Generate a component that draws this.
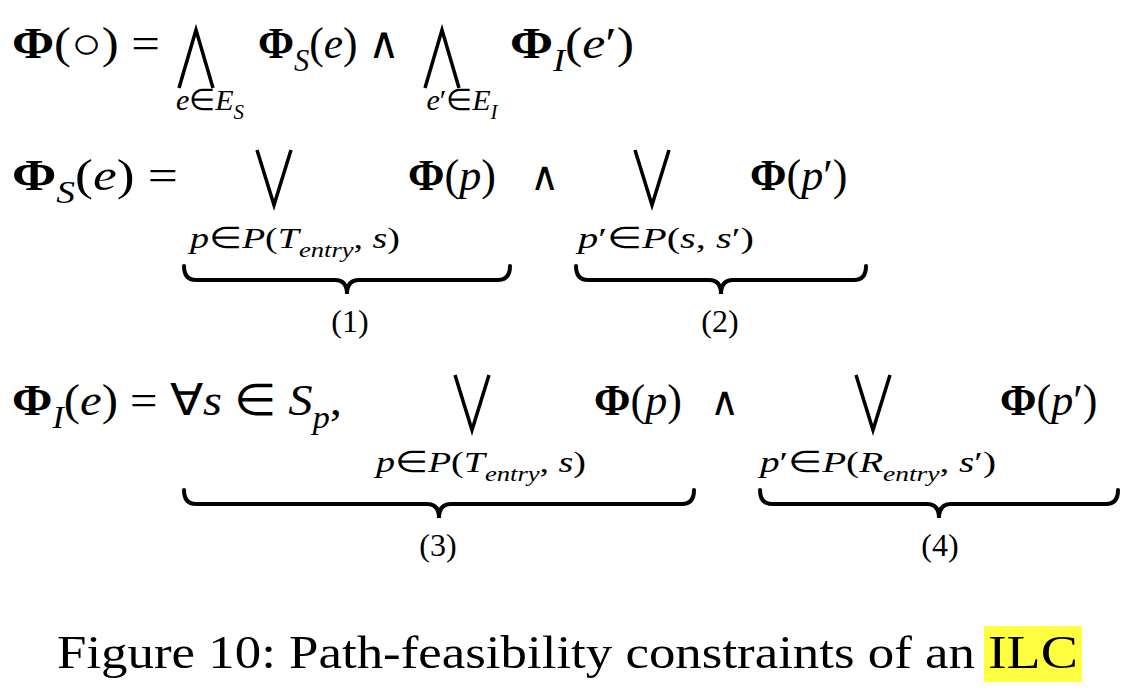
import React from "react";

type Seg = { t: string; i?: boolean; b?: boolean; sub?: boolean };

const line1: Seg[] = [{ t: "Φ", b: true }, { t: "(○) =" }];
const line1b: Seg[] = [{ t: "Φ", b: true }, { t: "S", i: true, sub: true }, { t: "(" }, { t: "e", i: true }, { t: ") ∧" }];
const line1c: Seg[] = [{ t: "Φ", b: true }, { t: "I", i: true, sub: true }, { t: "(" }, { t: "e", i: true }, { t: "′)" }];
const sub1a: Seg[] = [{ t: "e", i: true }, { t: "∈" }, { t: "E", i: true }, { t: "S", i: true, sub: true }];
const sub1b: Seg[] = [{ t: "e", i: true }, { t: "′∈" }, { t: "E", i: true }, { t: "I", i: true, sub: true }];

const line2a: Seg[] = [{ t: "Φ", b: true }, { t: "S", i: true, sub: true }, { t: "(" }, { t: "e", i: true }, { t: ") =" }];
const phiP: Seg[] = [{ t: "Φ", b: true }, { t: "(" }, { t: "p", i: true }, { t: ")" }];
const phiP2: Seg[] = [{ t: "Φ", b: true }, { t: "(" }, { t: "p", i: true }, { t: "′)" }];
const subT: Seg[] = [{ t: "p", i: true }, { t: "∈" }, { t: "P", i: true }, { t: "(" }, { t: "T", i: true }, { t: "entry", i: true, sub: true }, { t: ", " }, { t: "s", i: true }, { t: ")" }];
const subS: Seg[] = [{ t: "p", i: true }, { t: "′∈" }, { t: "P", i: true }, { t: "(" }, { t: "s", i: true }, { t: ", " }, { t: "s", i: true }, { t: "′)" }];
const subR: Seg[] = [{ t: "p", i: true }, { t: "′∈" }, { t: "P", i: true }, { t: "(" }, { t: "R", i: true }, { t: "entry", i: true, sub: true }, { t: ", " }, { t: "s", i: true }, { t: "′)" }];
const line3a: Seg[] = [{ t: "Φ", b: true }, { t: "I", i: true, sub: true }, { t: "(" }, { t: "e", i: true }, { t: ") = ∀" }, { t: "s", i: true }, { t: " ∈ " }, { t: "S", i: true }, { t: "p", i: true, sub: true }, { t: "," }];

// big operators: [x centre, top y, bottom y, isWedge]
const bigOps: [number, number, number, boolean][] = [
  [196, 30, 88, true], [442, 30, 88, true],
  [274, 150, 205, false], [652, 150, 205, false],
  [472, 375, 430, false], [873, 375, 430, false],
];
// braces: [x0, x1, y top]
const braces: [number, number, number][] = [
  [184, 510, 266], [576, 866, 266], [184, 694, 490], [760, 1118, 490],
];
const braceLabels: [string, number, number][] = [
  ["(1)", 350, 332], ["(2)", 720, 332], ["(3)", 438, 556], ["(4)", 940, 556],
];

const serif = "'Times New Roman', 'Liberation Serif', Times, serif";

function Math({ segs, x, y, size, anchor, len }: { segs: Seg[]; x: number; y: number; size: number; anchor?: string; len?: number }) {
  const out: React.ReactNode[] = [];
  let shift = 0;
  segs.forEach((s, k) => {
    const target = s.sub ? size * 0.3 : 0;
    const dy = target - shift;
    shift = target;
    out.push(
      <tspan key={k} dy={dy} fontStyle={s.i ? "italic" : "normal"} fontWeight={s.b ? "bold" : "normal"}
        fontSize={s.sub ? size * 0.7 : size}>{s.t}</tspan>
    );
  });
  return <text x={x} y={y} fontFamily={serif} fontSize={size} textAnchor={anchor ?? "start"} fill="#000"
    textLength={len} lengthAdjust={len ? "spacingAndGlyphs" : undefined}>{out}</text>;
}

function bracePath(x0: number, x1: number, y: number) {
  const m = (x0 + x1) / 2, h = 28, r = 12;
  return `M${x0},${y} Q${x0},${y + h / 2} ${x0 + r},${y + h / 2} L${m - r},${y + h / 2} Q${m},${y + h / 2} ${m},${y + h}` +
    ` Q${m},${y + h / 2} ${m + r},${y + h / 2} L${x1 - r},${y + h / 2} Q${x1},${y + h / 2} ${x1},${y}`;
}

export default function App() {
  return (
    <svg width={1134} height={692} style={{ position: "absolute", left: 0, top: 0, background: "#fff" }}>
      <Math segs={line1} x={12} y={58} size={44} len={148} />
      <Math segs={line1b} x={258} y={58} size={44} len={142} />
      <Math segs={line1c} x={510} y={58} size={44} len={124} />
      <Math segs={sub1a} x={210} y={110} size={30} anchor="middle" />
      <Math segs={sub1b} x={462} y={110} size={30} anchor="middle" />

      <Math segs={line2a} x={12} y={190} size={44} len={166} />
      <Math segs={phiP} x={408} y={190} size={44} />
      <text x={530} y={190} fontFamily={serif} fontSize={40}>∧</text>
      <Math segs={phiP2} x={750} y={190} size={44} />
      <Math segs={subT} x={190} y={248} size={30} len={210} />
      <Math segs={subS} x={578} y={248} size={30} len={176} />

      <Math segs={line3a} x={12} y={415} size={44} len={330} />
      <Math segs={phiP} x={594} y={415} size={44} />
      <text x={710} y={415} fontFamily={serif} fontSize={40}>∧</text>
      <Math segs={phiP2} x={1000} y={415} size={44} />
      <Math segs={subT} x={376} y={472} size={30} len={210} />
      <Math segs={subR} x={760} y={472} size={30} len={236} />

      {bigOps.map(([cx, t, b, wedge], k) => {
        const w = 17;
        const d = wedge
          ? `M${cx - w},${b} L${cx},${t} L${cx + w},${b}`
          : `M${cx - w},${t} L${cx},${b} L${cx + w},${t}`;
        return <path key={k} d={d} fill="none" stroke="#000" strokeWidth={3.5} strokeLinejoin="miter" />;
      })}
      {braces.map(([x0, x1, y], k) => (
        <path key={k} d={bracePath(x0, x1, y)} fill="none" stroke="#000" strokeWidth={4} strokeLinecap="round" />
      ))}
      {braceLabels.map(([t, x, y], k) => (
        <text key={k} x={x} y={y} fontFamily={serif} fontSize={32} textAnchor="middle">{t}</text>
      ))}

      <rect x={984} y={626} width={98} height={56} fill="#ffff40" />
      <text x={57} y={668} fontFamily={serif} fontSize={47} textLength={918} lengthAdjust="spacingAndGlyphs">Figure 10: Path-feasibility constraints of an</text>
      <text x={988} y={668} fontFamily={serif} fontSize={47} textLength={90} lengthAdjust="spacingAndGlyphs">ILC</text>
    </svg>
  );
}
